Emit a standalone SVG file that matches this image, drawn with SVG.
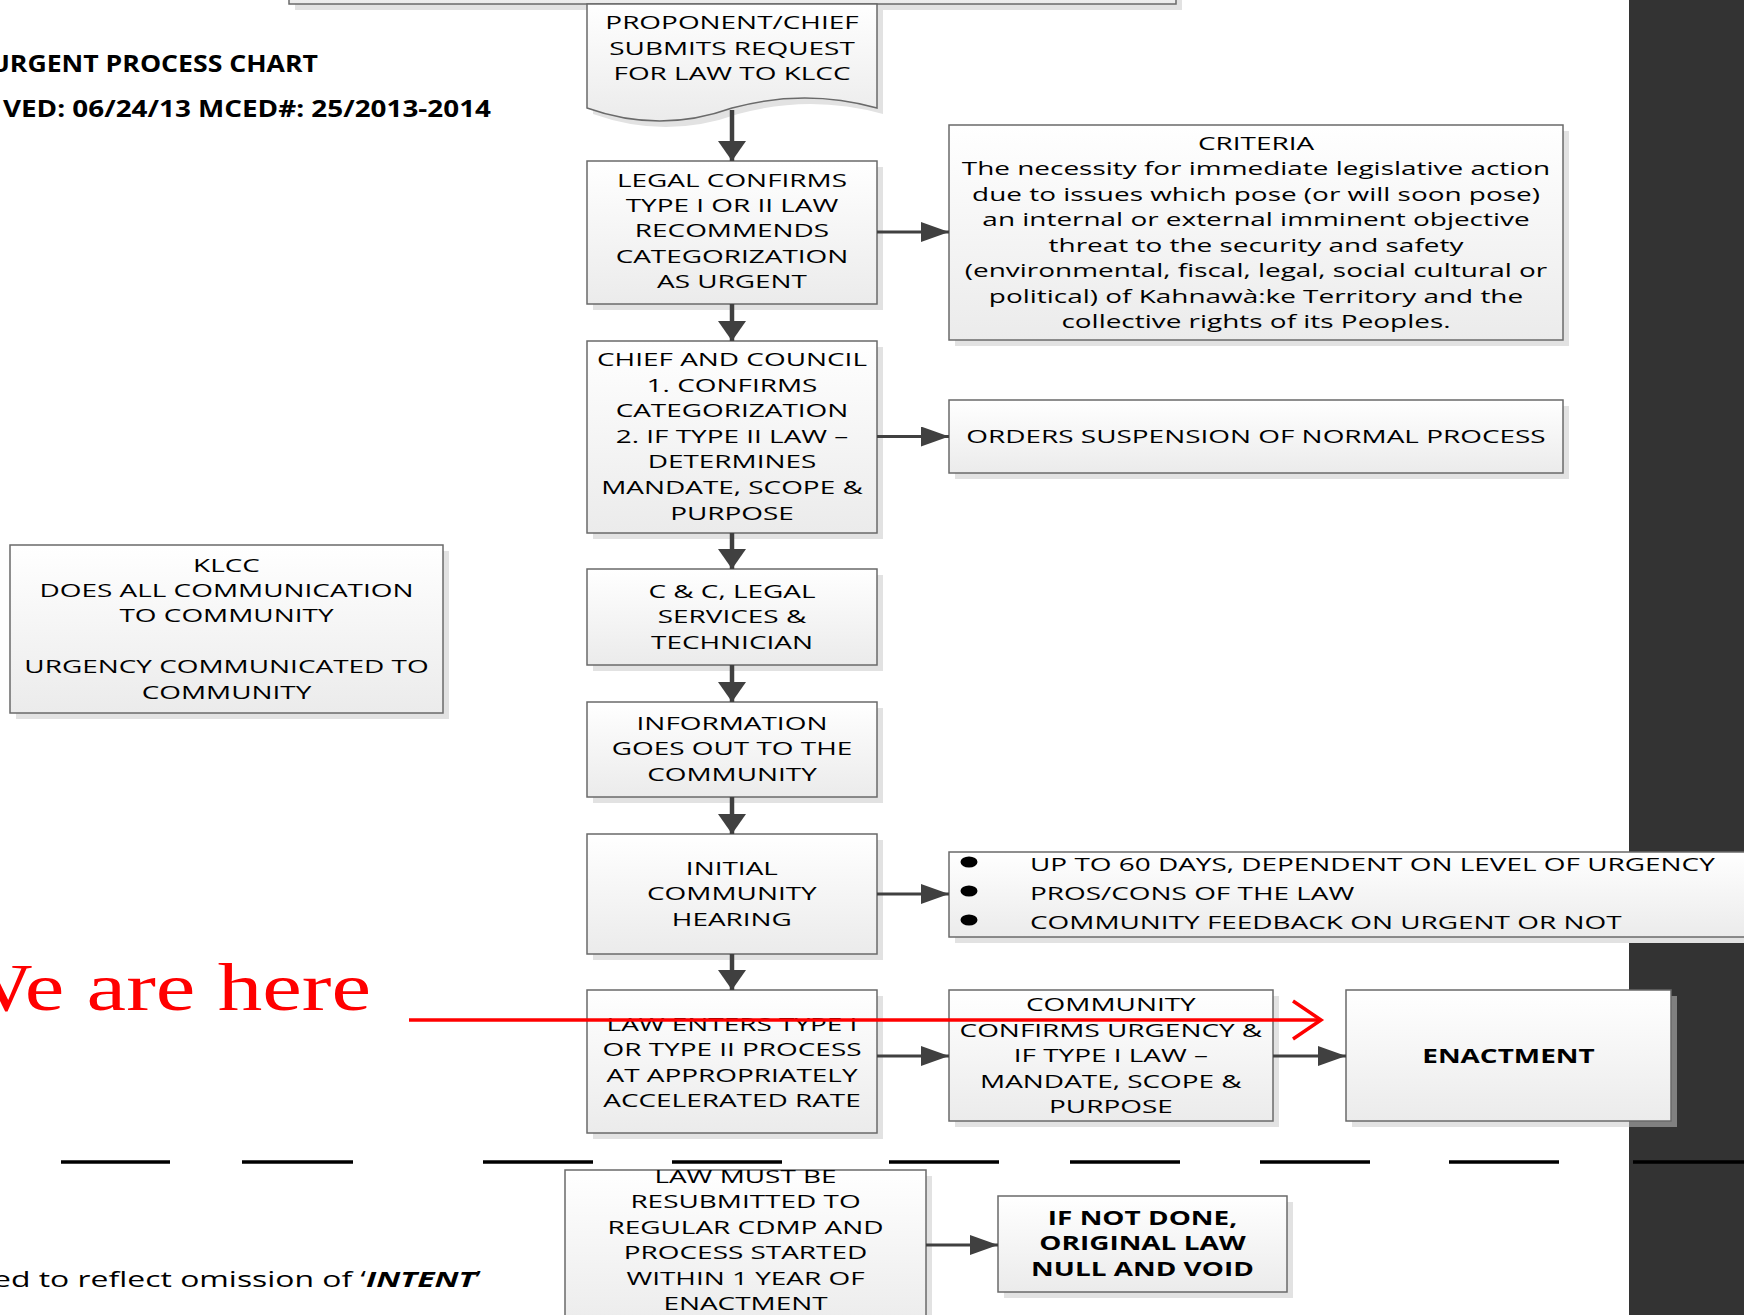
<svg xmlns="http://www.w3.org/2000/svg" width="1744" height="1315" viewBox="0 0 1744 1315">
<style>
.box{fill:url(#gf);stroke:#6a6a6a;stroke-width:1.5}
.sh{fill:#e2e2e2}
.t{font-family:"Open Sans",sans-serif;font-size:19px;fill:#000;text-anchor:middle;transform-box:fill-box;transform-origin:center;transform:scaleX(1.47)}
.ts{text-anchor:start;transform-origin:left center}
.bd{font-weight:bold}
.tt{font-family:"Open Sans",sans-serif;font-size:24px;font-weight:bold;fill:#000;text-anchor:end;transform-box:fill-box;transform-origin:right center}
.ft{font-family:"Open Sans",sans-serif;font-size:22px;fill:#000;text-anchor:end;transform-box:fill-box;transform-origin:right center;transform:scaleX(1.45)}
.red{font-family:"Liberation Serif",serif;font-size:67px;fill:#ff0000;text-anchor:end;transform-box:fill-box;transform-origin:right center;transform:scaleX(1.33)}
.cv{fill:none;stroke:#404040;stroke-width:4.5;marker-end:url(#aV)}
.ch{fill:none;stroke:#404040;stroke-width:3;marker-end:url(#aH)}
.dash{stroke:#000;stroke-width:3.5}
</style>
<defs>
<linearGradient id="gf" x1="0" y1="0" x2="0" y2="1">
<stop offset="0" stop-color="#ffffff"/>
<stop offset="1" stop-color="#ebebeb"/>
</linearGradient>
<marker id="aV" markerUnits="userSpaceOnUse" markerWidth="20" markerHeight="28" viewBox="0 0 20 28" refX="20" refY="14" orient="auto"><path d="M0,0 L20,14 L0,28 Z" fill="#404040"/></marker>
<marker id="aH" markerUnits="userSpaceOnUse" markerWidth="28" markerHeight="20" viewBox="0 0 28 20" refX="28" refY="10" orient="auto"><path d="M0,0 L28,10 L0,20 Z" fill="#404040"/></marker>
</defs>
<rect x="0" y="0" width="1744" height="1315" fill="#ffffff"/>
<rect id="band" x="1629" y="0" width="115" height="1315" fill="#333333"/>

<g id="title">
<text class="tt" x="318" y="72" style="transform:scaleX(1.11)">URGENT PROCESS CHART</text>
<text class="tt" x="491" y="117" style="transform:scaleX(1.16)">VED: 06/24/13 MCED#: 25/2013-2014</text>
</g>

<g id="topbox">
<rect class="sh" x="295" y="-34" width="887" height="44"/>
<rect class="box" x="289" y="-40" width="887" height="44"/>
</g>

<g id="n1">
<path class="sh" transform="translate(6 6)" d="M587,4 H877 V108 Q805,88 732,108 Q660,134 587,108 Z"/>
<path class="box" d="M587,4 H877 V108 Q805,88 732,108 Q660,134 587,108 Z"/>
<text class="t"><tspan x="732" y="29.5">PROPONENT/CHIEF</tspan><tspan x="732" y="55">SUBMITS REQUEST</tspan><tspan x="732" y="80.5">FOR LAW TO KLCC</tspan></text>
</g>

<g id="n2">
<rect class="sh" x="593" y="167" width="290" height="143"/>
<rect class="box" x="587" y="161" width="290" height="143"/>
<text class="t"><tspan x="732" y="187">LEGAL CONFIRMS</tspan><tspan x="732" y="212">TYPE I OR II LAW</tspan><tspan x="732" y="237.5">RECOMMENDS</tspan><tspan x="732" y="263">CATEGORIZATION</tspan><tspan x="732" y="288">AS URGENT</tspan></text>
</g>

<g id="criteria">
<rect class="sh" x="955" y="131" width="614" height="215"/>
<rect class="box" x="949" y="125" width="614" height="215"/>
<text class="t"><tspan x="1256" y="150">CRITERIA</tspan><tspan x="1256" y="175.5">The necessity for immediate legislative action</tspan><tspan x="1256" y="201">due to issues which pose (or will soon pose)</tspan><tspan x="1256" y="226.5">an internal or external imminent objective</tspan><tspan x="1256" y="252">threat to the security and safety</tspan><tspan x="1256" y="277.5">(environmental, fiscal, legal, social cultural or</tspan><tspan x="1256" y="303">political) of Kahnawà:ke Territory and the</tspan><tspan x="1256" y="328.5">collective rights of its Peoples.</tspan></text>
</g>

<g id="n3">
<rect class="sh" x="593" y="347" width="290" height="192"/>
<rect class="box" x="587" y="341" width="290" height="192"/>
<text class="t"><tspan x="732" y="366">CHIEF AND COUNCIL</tspan><tspan x="732" y="391.6">1. CONFIRMS</tspan><tspan x="732" y="417.2">CATEGORIZATION</tspan><tspan x="732" y="442.8">2. IF TYPE II LAW –</tspan><tspan x="732" y="468.4">DETERMINES</tspan><tspan x="732" y="494">MANDATE, SCOPE &amp;</tspan><tspan x="732" y="519.6">PURPOSE</tspan></text>
</g>

<g id="orders">
<rect class="sh" x="955" y="406" width="614" height="73"/>
<rect class="box" x="949" y="400" width="614" height="73"/>
<text class="t" x="1256" y="443">ORDERS SUSPENSION OF NORMAL PROCESS</text>
</g>

<g id="klcc">
<rect class="sh" x="16" y="551" width="433" height="168"/>
<rect class="box" x="10" y="545" width="433" height="168"/>
<text class="t"><tspan x="226.5" y="572">KLCC</tspan><tspan x="226.5" y="597">DOES ALL COMMUNICATION</tspan><tspan x="226.5" y="622.5">TO COMMUNITY</tspan><tspan x="226.5" y="673.5">URGENCY COMMUNICATED TO</tspan><tspan x="226.5" y="699">COMMUNITY</tspan></text>
</g>

<g id="n4">
<rect class="sh" x="593" y="575" width="290" height="96"/>
<rect class="box" x="587" y="569" width="290" height="96"/>
<text class="t"><tspan x="732" y="598">C &amp; C, LEGAL</tspan><tspan x="732" y="623.5">SERVICES &amp;</tspan><tspan x="732" y="649">TECHNICIAN</tspan></text>
</g>

<g id="n5">
<rect class="sh" x="593" y="708" width="290" height="95"/>
<rect class="box" x="587" y="702" width="290" height="95"/>
<text class="t"><tspan x="732" y="730">INFORMATION</tspan><tspan x="732" y="755.5">GOES OUT TO THE</tspan><tspan x="732" y="781">COMMUNITY</tspan></text>
</g>

<g id="n6">
<rect class="sh" x="593" y="840" width="290" height="120"/>
<rect class="box" x="587" y="834" width="290" height="120"/>
<text class="t"><tspan x="732" y="875">INITIAL</tspan><tspan x="732" y="900.5">COMMUNITY</tspan><tspan x="732" y="926">HEARING</tspan></text>
</g>

<g id="bullets">
<rect class="sh" x="955" y="858" width="820" height="85"/>
<rect class="box" x="949" y="852" width="820" height="85"/>
<ellipse cx="969" cy="862" rx="8.5" ry="5.5" fill="#000"/>
<ellipse cx="969" cy="891" rx="8.5" ry="5.5" fill="#000"/>
<ellipse cx="969" cy="920" rx="8.5" ry="5.5" fill="#000"/>
<text class="t ts" x="1030" y="871.5">UP TO 60 DAYS, DEPENDENT ON LEVEL OF URGENCY</text>
<text class="t ts" x="1030" y="900.5">PROS/CONS OF THE LAW</text>
<text class="t ts" x="1030" y="929.5">COMMUNITY FEEDBACK ON URGENT OR NOT</text>
</g>

<g id="n7">
<rect class="sh" x="593" y="996" width="290" height="143"/>
<rect class="box" x="587" y="990" width="290" height="143"/>
<text class="t"><tspan x="732" y="1031">LAW ENTERS TYPE I</tspan><tspan x="732" y="1056.5">OR TYPE II PROCESS</tspan><tspan x="732" y="1082">AT APPROPRIATELY</tspan><tspan x="732" y="1107.5">ACCELERATED RATE</tspan></text>
</g>

<g id="n8">
<rect class="sh" x="955" y="996" width="324" height="131"/>
<rect class="box" x="949" y="990" width="324" height="131"/>
<text class="t"><tspan x="1111" y="1011.5">COMMUNITY</tspan><tspan x="1111" y="1037">CONFIRMS URGENCY &amp;</tspan><tspan x="1111" y="1062.5">IF TYPE I LAW –</tspan><tspan x="1111" y="1088">MANDATE, SCOPE &amp;</tspan><tspan x="1111" y="1113.5">PURPOSE</tspan></text>
</g>

<g id="enactment">
<rect class="sh" x="1352" y="996" width="325" height="131"/>
<rect x="1629" y="996" width="48" height="131" fill="#808080"/>
<rect class="box" x="1346" y="990" width="325" height="131"/>
<text class="t bd" x="1508.5" y="1063">ENACTMENT</text>
</g>

<g id="n9">
<rect class="sh" x="571" y="1176" width="361" height="160"/>
<rect class="box" x="565" y="1170" width="361" height="160"/>
<text class="t"><tspan x="745.5" y="1183">LAW MUST BE</tspan><tspan x="745.5" y="1208.5">RESUBMITTED TO</tspan><tspan x="745.5" y="1234">REGULAR CDMP AND</tspan><tspan x="745.5" y="1259.5">PROCESS STARTED</tspan><tspan x="745.5" y="1285">WITHIN 1 YEAR OF</tspan><tspan x="745.5" y="1310.5">ENACTMENT</tspan></text>
</g>

<g id="n10">
<rect class="sh" x="1004" y="1202" width="289" height="96"/>
<rect class="box" x="998" y="1196" width="289" height="96"/>
<text class="t bd"><tspan x="1142.5" y="1225">IF NOT DONE,</tspan><tspan x="1142.5" y="1250.5">ORIGINAL LAW</tspan><tspan x="1142.5" y="1276">NULL AND VOID</tspan></text>
</g>

<g id="connectors">
<path class="cv" d="M732,110 V161"/>
<path class="cv" d="M732,304 V341"/>
<path class="cv" d="M732,533 V569"/>
<path class="cv" d="M732,665 V702"/>
<path class="cv" d="M732,797 V834"/>
<path class="cv" d="M732,954 V990"/>
<path class="ch" d="M877,232 H949"/>
<path class="ch" d="M877,436.5 H949"/>
<path class="ch" d="M877,894 H949"/>
<path class="ch" d="M877,1056 H949"/>
<path class="ch" d="M1273,1056 H1346"/>
<path class="ch" d="M926,1245 H998"/>
</g>

<g id="separator">
<line class="dash" x1="61" y1="1162" x2="170" y2="1162"/>
<line class="dash" x1="242" y1="1162" x2="353" y2="1162"/>
<line class="dash" x1="483" y1="1162" x2="593" y2="1162"/>
<line class="dash" x1="672" y1="1162" x2="782" y2="1162"/>
<line class="dash" x1="889" y1="1162" x2="999" y2="1162"/>
<line class="dash" x1="1070" y1="1162" x2="1180" y2="1162"/>
<line class="dash" x1="1260" y1="1162" x2="1370" y2="1162"/>
<line class="dash" x1="1449" y1="1162" x2="1559" y2="1162"/>
<line class="dash" x1="1633" y1="1162" x2="1744" y2="1162"/>
</g>

<g id="here">
<text class="red" x="371" y="1010">We are here</text>
<path d="M409,1020 H1321" fill="none" stroke="#ff0000" stroke-width="3.5"/>
<path d="M1293,1001 L1321,1020 L1293,1039" fill="none" stroke="#ff0000" stroke-width="3.5"/>
</g>

<g id="footer">
<text class="ft" x="481" y="1287.5">ed to reflect omission of ‘<tspan font-weight="bold" font-style="italic">INTENT</tspan>’</text>
</g>
</svg>
